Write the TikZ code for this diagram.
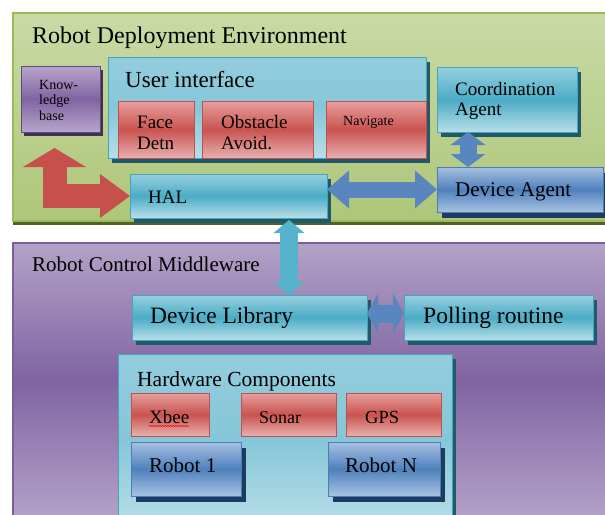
\documentclass[tikz,border=0pt]{standalone}
\usepackage{fontspec}
\setmainfont{Liberation Serif}
\usetikzlibrary{arrows.meta,shadows,decorations.pathmorphing}

\definecolor{envA}{HTML}{C9DAA5}
\definecolor{envB}{HTML}{AEC679}
\definecolor{envline}{HTML}{9BBB59}
\definecolor{envdark}{HTML}{4F6228}
\definecolor{midA}{HTML}{B3A2C7}
\definecolor{midB}{HTML}{8064A2}
\definecolor{midline}{HTML}{7A5F9C}
\definecolor{cyanA}{HTML}{96D0DF}
\definecolor{cyanB}{HTML}{4BACC6}
\definecolor{cyanC}{HTML}{B7DEE8}
\definecolor{cyanL}{HTML}{93CDDD}
\definecolor{cyanline}{HTML}{45A5BF}
\definecolor{cyandark}{HTML}{215968}
\definecolor{redA}{HTML}{E6A09E}
\definecolor{redB}{HTML}{C9534F}
\definecolor{redC}{HTML}{E8B1AF}
\definecolor{redline}{HTML}{C0504D}
\definecolor{blueA}{HTML}{A7C0E0}
\definecolor{blueB}{HTML}{4F81BD}
\definecolor{blueC}{HTML}{A9C2E1}
\definecolor{blueline}{HTML}{4A7EBB}
\definecolor{bluedark}{HTML}{1F3A5F}
\definecolor{kbA}{HTML}{B7A6CB}
\definecolor{kbB}{HTML}{8064A2}
\definecolor{kbline}{HTML}{5E4A7C}
\definecolor{kbdark}{HTML}{3F3151}
\definecolor{arrred}{HTML}{C8504C}
\definecolor{arrblue}{HTML}{5A86C0}
\definecolor{arrcyan}{HTML}{55B3CC}

\begin{document}
\begin{tikzpicture}[
        x=1pt, y=-1pt,
        panel/.style={anchor=north west, inner sep=0pt, outer sep=0pt, line width=1.2pt},
        greenpanel/.style={panel, draw=envline, top color=envA, bottom color=envB,
            drop shadow={shadow xshift=0pt, shadow yshift=-4pt, opacity=1, fill=envdark}},
        purplepanel/.style={panel, draw=midline, top color=midA, bottom color=midA, middle color=midB},
        cyanpanel/.style={panel, line width=1pt, draw=cyanline, top color=cyanL, bottom color=cyanC, middle color=cyanL!80!cyanB,
            drop shadow={shadow xshift=4pt, shadow yshift=-5pt, opacity=1, fill=cyandark}},
        cyanbox/.style={panel, line width=1pt, draw=cyanline, top color=cyanA, bottom color=cyanC, middle color=cyanB,
            drop shadow={shadow xshift=4pt, shadow yshift=-5pt, opacity=1, fill=cyandark}},
        redbox/.style={panel, line width=1pt, draw=redline, top color=redA, bottom color=redC, middle color=redB},
        bluebox/.style={panel, line width=1pt, draw=blueline, top color=blueA, bottom color=blueC, middle color=blueB,
            drop shadow={shadow xshift=5pt, shadow yshift=-6pt, opacity=1, fill=bluedark}},
        kbbox/.style={panel, line width=1pt, draw=kbline, top color=kbA, bottom color=kbA, middle color=kbB,
            drop shadow={shadow xshift=3pt, shadow yshift=-4pt, opacity=1, fill=kbdark}},
        lbl/.style={anchor=base west, inner sep=0pt, align=left, font=\fontsize{#1}{#1}\selectfont},
        redfat/.style={draw=arrred, line width=24pt, line join=miter,
            arrows={Triangle[width=63pt,length=19pt,line width=0pt]-Triangle[width=44pt,length=30pt,line width=0pt]}},
        bluefat/.style={draw=arrblue, line width=#1,
            arrows={Triangle[width=38pt,length=22pt,line width=0pt]-Triangle[width=38pt,length=22pt,line width=0pt]}},
        cyanfat/.style={draw=arrcyan, line width=18pt,
            arrows={Triangle[width=31pt,length=13pt,line width=0pt]-Triangle[width=31pt,length=13pt,line width=0pt]}},
        spell/.style={draw=red, line width=.5pt, decorate, decoration={snake, amplitude=.7pt, segment length=2.6pt}},
    ]
    \useasboundingbox (0,0) rectangle (605,514);
    \fill[white] (0,0) rectangle (605,514);
    \clip (0,0) rectangle (605,514);

    % the two layers
    \node[greenpanel, minimum width=600pt, minimum height=208pt] (env) at (13,13) {};
    \node[purplepanel, minimum width=600pt, minimum height=275pt] (mid) at (13,243) {};
    \node[lbl=24] (envtxt) at (32,43) {Robot Deployment Environment};
    \node[lbl=21] (midtxt) at (32,271) {Robot Control Middleware};

    % deployment side (multi-line labels sit on their last line)
    \node[kbbox, minimum width=79pt, minimum height=66pt] (kb) at (21,66) {};
    \node[lbl=14] (kbtxt) at (39,120) {Know-\\[1.5pt]ledge\\[1.5pt]base};
    \node[cyanpanel, minimum width=318pt, minimum height=101pt] (ui) at (108,57) {};
    \node[lbl=23] (uitxt) at (125,87) {User interface};
    \foreach \n/\x/\w in {face/118/76, obst/202/111, nav/326/100}
        \node[redbox, minimum width=\w pt, minimum height=57pt] (\n) at (\x,101) {};
    \node[lbl=19] (facetxt) at (137,149) {Face\\[2pt]Detn};
    \node[lbl=19] (obsttxt) at (221,149) {Obstacle\\[2pt]Avoid.};
    \node[lbl=14] (navtxt) at (343,125) {Navigate};
    \node[cyanbox, minimum width=140pt, minimum height=65pt] (coord) at (437,67) {};
    \node[lbl=19] (coordtxt) at (455,115) {Coordination\\[1pt]Agent};
    \node[bluebox, minimum width=166pt, minimum height=45pt] (devagent) at (437,167) {};
    \node[lbl=21] (devagenttxt) at (455,196) {Device Agent};
    \node[cyanbox, minimum width=197pt, minimum height=44pt] (hal) at (130,174) {};
    \node[lbl=19] (haltxt) at (148,203) {HAL};

    % middleware side
    \node[cyanbox, minimum width=235pt, minimum height=45pt] (devlib) at (132,295) {};
    \node[lbl=23.5] (devlibtxt) at (150,323) {Device Library};
    \node[cyanbox, minimum width=189pt, minimum height=45pt] (poll) at (404,295) {};
    \node[lbl=23.5] (polltxt) at (423,323) {Polling routine};
    \node[cyanpanel, minimum width=334pt, minimum height=170pt] (hw) at (118,354) {};
    \node[lbl=21.5] (hwtxt) at (137,386) {Hardware Components};
    \foreach \n/\x/\w in {xbee/131/78, sonar/241/95, gps/346/95}
        \node[redbox, minimum width=\w pt, minimum height=43pt] (\n) at (\x,393) {};
    \node[lbl=19] (xbeetxt) at (149,423) {Xbee};
    \node[lbl=18] (sonartxt) at (259,423) {Sonar};
    \node[lbl=18.5] (gpstxt) at (365,423) {GPS};
    \node[bluebox, minimum width=110pt, minimum height=54pt] (robot1) at (131,442) {};
    \node[lbl=21] (robot1txt) at (149,472) {Robot 1};
    \node[bluebox, minimum width=112pt, minimum height=54pt] (robotN) at (328,442) {};
    \node[lbl=21] (robotNtxt) at (345,472) {Robot N};
    \draw[spell] ([yshift=-3pt]xbeetxt.base west) -- ([yshift=-3pt]xbeetxt.base east);

    % block arrows
    \coordinate (kbout) at ([shift={(-6,16)}]kb.south);
    \draw[redfat] (kbout) |- (hal.west);
    \draw[bluefat=16pt] (hal.east |- devagent.west) -- (devagent.west);
    \coordinate (cdout) at ([xshift=-39pt]coord.south);
    \draw[bluefat=17pt, arrows={Triangle[width=35pt,length=13pt,line width=0pt]-Triangle[width=35pt,length=13pt,line width=0pt]}]
        (cdout) -- (cdout |- devagent.north);
    \coordinate (halout) at ([xshift=60.5pt]hal.south);
    \draw[cyanfat] ([yshift=-2pt]halout) -- (halout |- devlib.north);
    \draw[bluefat=18pt, arrows={Triangle[width=40pt,length=11pt,line width=0pt]-Triangle[width=40pt,length=11pt,line width=0pt]}]
        ([yshift=4pt]devlib.east) -- ([yshift=4pt]poll.west);
\end{tikzpicture}
\end{document}
